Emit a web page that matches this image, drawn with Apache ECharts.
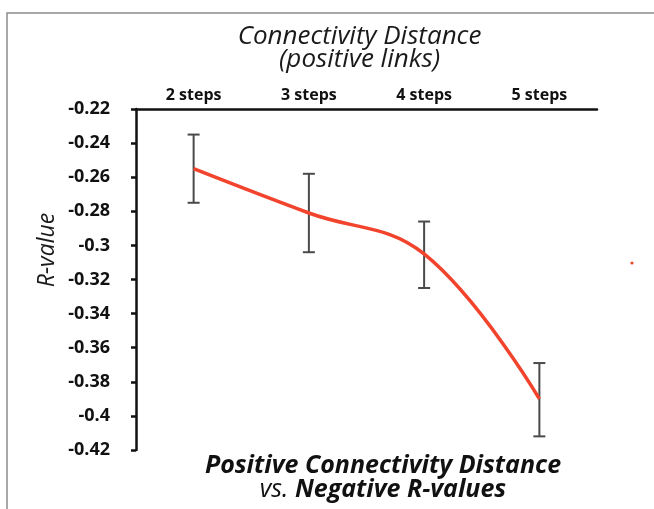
<!DOCTYPE html>
<html>
<head>
<meta charset="utf-8">
<script src="https://cdn.jsdelivr.net/npm/echarts@6/dist/echarts.min.js"></script>
<style>
html, body { margin: 0; padding: 0; background: #fff; }
#main { width: 654px; height: 509px; }
</style>
</head>
<body>
<div id="main"></div>
<script>
//----data
var steps = ['2 steps', '3 steps', '4 steps', '5 steps'];
var rValues = [-0.255, -0.281, -0.305, -0.390];
var errHigh = [-0.235, -0.258, -0.286, -0.369];
var errLow = [-0.275, -0.304, -0.325, -0.412];
var yMin = -0.42, yMax = -0.22, yStep = 0.02;

var errData = steps.map(function (s, i) { return [i, errLow[i], errHigh[i]]; });

var myChart = echarts.init(document.getElementById('main'));
var fontFam = '"Open Sans", Lato, sans-serif';

var option = {
    backgroundColor: '#fff',
    animation: false,
    grid: { left: 136, right: 57, top: 109, bottom: 59 },
    xAxis: {
        type: 'category',
        position: 'top',
        data: steps,
        boundaryGap: true,
        name: 'Connectivity Distance\n(positive links)',
        nameLocation: 'middle',
        nameGap: 38,
        nameTextStyle: { fontFamily: fontFam, fontStyle: 'italic', fontSize: 26, lineHeight: 23, color: '#1a1a1a', padding: [0, 14, 0, 0] },
        axisLine: { lineStyle: { color: '#111', width: 2.5 } },
        axisTick: { inside: true, length: 5, lineStyle: { color: '#111', width: 2.5 } },
        axisLabel: { fontFamily: fontFam, fontWeight: 'bold', fontSize: 16, color: '#111', margin: 6 },
        splitLine: { show: false }
    },
    yAxis: {
        type: 'value',
        min: yMin,
        max: yMax,
        interval: yStep,
        axisLine: { show: true, lineStyle: { color: '#111', width: 2.5 } },
        axisTick: { show: true, inside: false, length: 5, lineStyle: { color: '#111', width: 2.5 } },
        axisLabel: { fontFamily: fontFam, fontWeight: 'bold', fontSize: 18, color: '#111', margin: 26 },
        splitLine: { show: false }
    },
    series: [{
        type: 'line',
        data: rValues,
        smooth: 0.4,
        symbol: 'none',
        lineStyle: { color: '#f2432c', width: 3.5 },
        z: 3
    }, {
        type: 'custom',
        data: errData,
        z: 2,
        renderItem: function (params, api) {
            var top = api.coord([api.value(0), api.value(2)]);
            var bot = api.coord([api.value(0), api.value(1)]);
            var w = 6;
            var st = { stroke: '#4a4a4a', lineWidth: 2 };
            return {
                type: 'group',
                children: [
                    { type: 'line', shape: { x1: top[0], y1: top[1], x2: bot[0], y2: bot[1] }, style: st },
                    { type: 'line', shape: { x1: top[0] - w, y1: top[1], x2: top[0] + w, y2: top[1] }, style: st },
                    { type: 'line', shape: { x1: bot[0] - w, y1: bot[1], x2: bot[0] + w, y2: bot[1] }, style: st }
                ]
            };
        }
    }],
    graphic: [{
        type: 'rect',
        shape: { x: 7, y: 13, width: 700, height: 600 },
        style: { fill: 'none', stroke: '#8c8c8c', lineWidth: 1.5 },
        silent: true
    }, {
        type: 'circle',
        shape: { cx: 632, cy: 263, r: 1.6 },
        style: { fill: '#f2432c' },
        silent: true
    }, {
        type: 'text',
        x: 47,
        y: 250,
        rotation: Math.PI / 2,
        style: {
            text: 'R-value',
            textAlign: 'center',
            textVerticalAlign: 'middle',
            fontFamily: fontFam,
            fontStyle: 'italic',
            fontSize: 23,
            fill: '#1a1a1a'
        }
    }, {
        type: 'text',
        x: 383,
        y: 454,
        style: {
            text: '{b|Positive Connectivity Distance}\n{i|vs. }{b|Negative R-values}',
            textAlign: 'center',
            fill: '#111',
            rich: {
                b: { fontFamily: fontFam, fontStyle: 'italic', fontWeight: 'bold', fontSize: 25, lineHeight: 24, fill: '#111' },
                i: { fontFamily: fontFam, fontStyle: 'italic', fontSize: 25, lineHeight: 24, fill: '#111' }
            }
        }
    }]
};

myChart.setOption(option, true);
</script>
</body>
</html>
